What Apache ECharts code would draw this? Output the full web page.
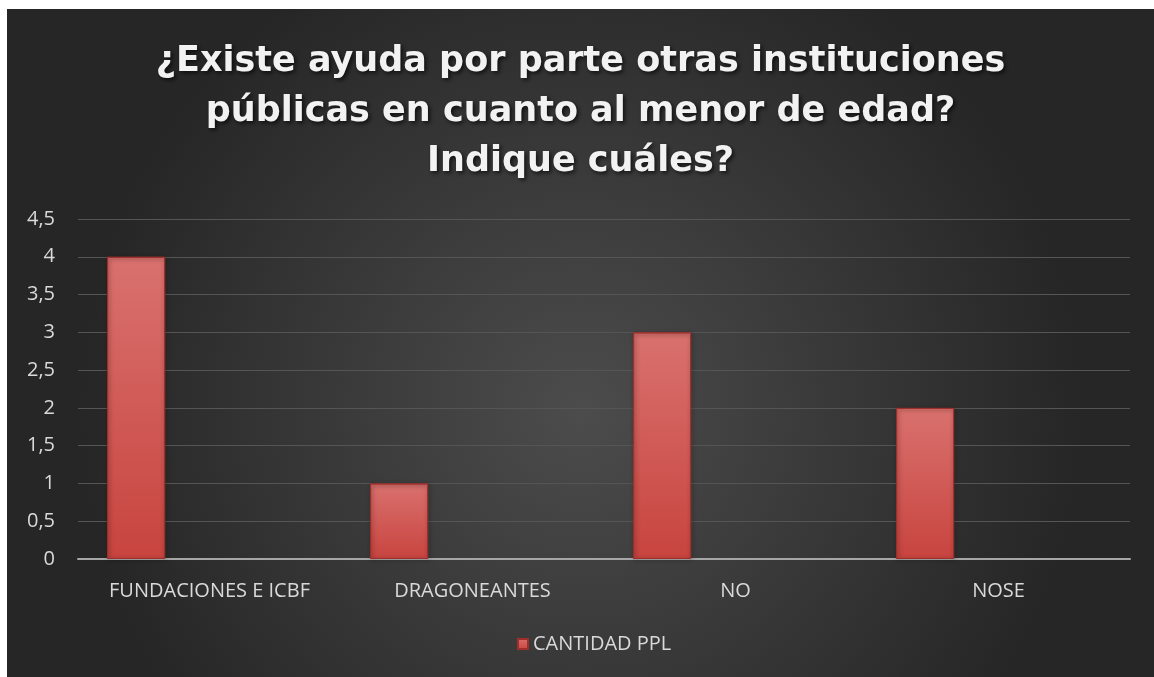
<!DOCTYPE html>
<html><head><meta charset="utf-8">
<script src="https://cdn.jsdelivr.net/npm/echarts@6/dist/echarts.min.js"></script>
<style>html,body{margin:0;padding:0;background:#fff;}#c{position:absolute;left:7px;top:9px;width:1147px;height:668px;}</style>
</head><body><div id="c"></div>
<script>
const titleLines = ['¿Existe ayuda por parte otras instituciones', 'públicas en cuanto al menor de edad?', 'Indique cuáles?'];
const categories = ['FUNDACIONES E ICBF', 'DRAGONEANTES', 'NO', 'NOSE'];
const seriesName = 'CANTIDAD PPL';
const values = [4, 1, 3, 2];
const yTicks = {min: 0, max: 4.5, interval: 0.5};

const chart = echarts.init(document.getElementById('c'));
chart.setOption({
  backgroundColor: {type: 'radial', x: 0.5, y: 0.6, r: 0.75,
    colorStops: [{offset: 0, color: '#4c4c4c'}, {offset: 1, color: '#262626'}]},
  title: {
    text: titleLines.join('\n'), left: 'center', top: 23,
    textStyle: {color: '#f2f2f2', fontFamily: 'DejaVu Sans', fontWeight: 'bold', fontSize: 35, lineHeight: 50,
      textShadowColor: 'rgba(0,0,0,0.7)', textShadowBlur: 4, textShadowOffsetX: 2, textShadowOffsetY: 2}
  },
  legend: {
    data: [seriesName], top: 620, left: 505, itemWidth: 10, itemHeight: 10, icon: 'rect', itemGap: 5,
    textStyle: {color: '#d9d9d9', fontFamily: 'Open Sans', fontSize: 20}
  },
  grid: {left: 71, right: 24, top: 210, bottom: 118, containLabel: false},
  xAxis: {
    type: 'category', data: categories,
    axisLine: {lineStyle: {color: '#a6a6a6', width: 2}},
    axisTick: {show: false},
    axisLabel: {color: '#d9d9d9', fontFamily: 'Open Sans', fontSize: 20, margin: 22}
  },
  yAxis: {
    type: 'value', min: yTicks.min, max: yTicks.max, interval: yTicks.interval,
    axisLine: {show: false}, axisTick: {show: false},
    splitLine: {lineStyle: {color: '#555555', width: 1}},
    axisLabel: {color: '#d9d9d9', fontFamily: 'Open Sans', fontSize: 20, margin: 23,
      formatter: v => String(v).replace('.', ',')}
  },
  series: [
    {name: seriesName, type: 'bar', data: values, barWidth: 58, barGap: '153%',
      itemStyle: {color: {type: 'linear', x: 0, y: 0, x2: 0, y2: 1,
        colorStops: [{offset: 0, color: '#d9716e'}, {offset: 1, color: '#c8443f'}]},
        borderColor: '#9e2f2c', borderWidth: 1,
        shadowColor: 'rgba(0,0,0,0.5)', shadowBlur: 4, shadowOffsetX: 1, shadowOffsetY: 1}},
    {name: '_', type: 'bar', data: values.map(() => null), barWidth: 58}
  ]
});
</script></body></html>
